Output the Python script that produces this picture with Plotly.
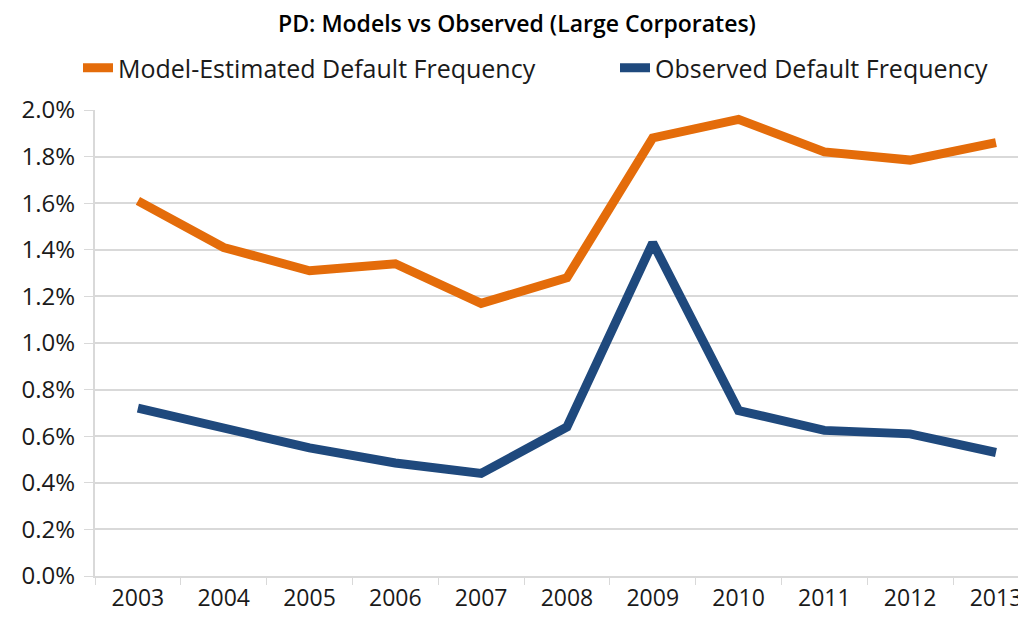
import plotly.graph_objects as go

years = ["2003", "2004", "2005", "2006", "2007", "2008", "2009", "2010", "2011", "2012", "2013"]
model_est = [1.61, 1.41, 1.31, 1.34, 1.17, 1.28, 1.88, 1.96, 1.82, 1.785, 1.86]
observed = [0.72, 0.635, 0.55, 0.485, 0.44, 0.64, 1.43, 0.71, 0.625, 0.61, 0.53]
y_ticks = [0.0, 0.2, 0.4, 0.6, 0.8, 1.0, 1.2, 1.4, 1.6, 1.8, 2.0]
y_labels = [f"{v:.1f}%" for v in y_ticks]

FONT = "Open Sans"
TXT = "#1a1a1a"
W, H = 1018, 616
fig = go.Figure()
fig.add_trace(go.Scatter(x=years, y=model_est, mode="lines", name="Model-Estimated Default Frequency",
                         line=dict(color="#E46C0A", width=9), legend="legend", showlegend=True))
fig.add_trace(go.Scatter(x=years, y=observed, mode="lines", name="Observed Default Frequency",
                         line=dict(color="#1F497D", width=9), legend="legend2", showlegend=True))

leg_common = dict(orientation="h", xref="container", yref="container", yanchor="middle",
                  xanchor="left", font=dict(family=FONT, size=25, color=TXT),
                  bgcolor="rgba(0,0,0,0)", visible=True)
fig.update_layout(
    width=W, height=H,
    showlegend=True,
    margin=dict(l=87, r=0, t=102, b=48, autoexpand=False),
    paper_bgcolor="white", plot_bgcolor="white",
    title=dict(text="PD: Models vs Observed (Large Corporates)", x=0.5, xanchor="center",
               y=1 - 16 / H, yanchor="middle",
               font=dict(family=FONT, size=23, color="#000000", weight=600)),
    legend=dict(x=70 / W, y=1 - 60 / H, **leg_common),
    legend2=dict(x=607 / W, y=1 - 60 / H, **leg_common),
    font=dict(family=FONT, size=24, color=TXT),
)
fig.update_xaxes(type="category", range=[-0.5, 10.35], tickson="boundaries", ticks="outside",
                 ticklen=7, tickcolor="#d9d9d9", showgrid=False, showline=True, automargin=False,
                 linecolor="#d9d9d9", linewidth=2, tickfont=dict(family=FONT, size=23, color=TXT))
fig.update_yaxes(range=[0, 2.0], tickvals=y_ticks, ticktext=y_labels, showgrid=True, automargin=False,
                 gridcolor="#d9d9d9", gridwidth=2, showline=True, linecolor="#d9d9d9", linewidth=2,
                 ticks="outside", ticklen=9, tickcolor="#d9d9d9", zeroline=False,
                 ticklabelstandoff=4, tickfont=dict(family=FONT, size=24, color=TXT))

fig.write_html("out.html")
